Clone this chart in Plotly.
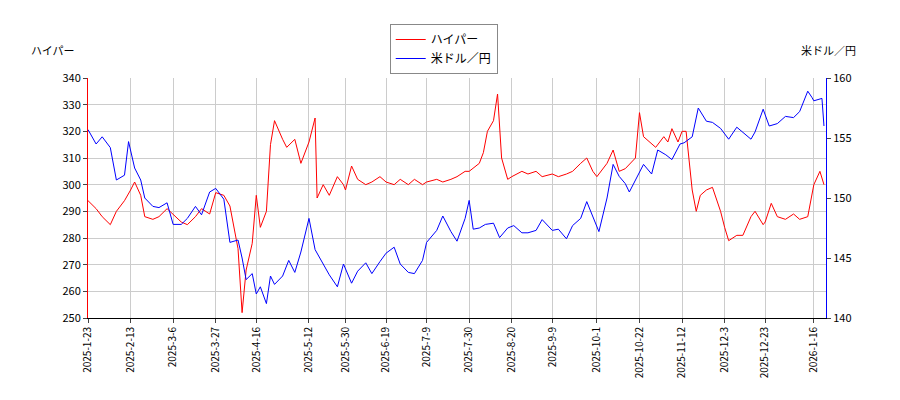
import plotly.graph_objects as go

r_dates = ["2025-01-23","2025-01-27","2025-01-30","2025-02-03","2025-02-06","2025-02-10","2025-02-13","2025-02-15","2025-02-18","2025-02-20","2025-02-24","2025-02-27","2025-03-03","2025-03-06","2025-03-10","2025-03-13","2025-03-17","2025-03-20","2025-03-24","2025-03-27","2025-03-31","2025-04-03","2025-04-07","2025-04-09","2025-04-11","2025-04-14","2025-04-16","2025-04-18","2025-04-21","2025-04-23","2025-04-25","2025-04-29","2025-05-01","2025-05-05","2025-05-08","2025-05-12","2025-05-15","2025-05-16","2025-05-19","2025-05-22","2025-05-26","2025-05-29","2025-05-30","2025-06-02","2025-06-05","2025-06-09","2025-06-12","2025-06-16","2025-06-19","2025-06-23","2025-06-26","2025-06-30","2025-07-03","2025-07-07","2025-07-09","2025-07-14","2025-07-17","2025-07-21","2025-07-24","2025-07-28","2025-07-30","2025-08-04","2025-08-06","2025-08-08","2025-08-11","2025-08-13","2025-08-15","2025-08-18","2025-08-20","2025-08-25","2025-08-28","2025-09-01","2025-09-04","2025-09-09","2025-09-12","2025-09-16","2025-09-19","2025-09-23","2025-09-26","2025-09-29","2025-10-01","2025-10-06","2025-10-09","2025-10-12","2025-10-15","2025-10-20","2025-10-22","2025-10-24","2025-10-27","2025-10-30","2025-11-03","2025-11-05","2025-11-07","2025-11-10","2025-11-12","2025-11-14","2025-11-17","2025-11-19","2025-11-21","2025-11-24","2025-11-27","2025-12-01","2025-12-03","2025-12-05","2025-12-09","2025-12-12","2025-12-16","2025-12-18","2025-12-22","2025-12-23","2025-12-26","2025-12-29","2026-01-02","2026-01-06","2026-01-09","2026-01-13","2026-01-16","2026-01-19","2026-01-21"]
r_vals = [294,291,288,285,290,294,298,301,296,288,287,288,291,289,286,285,288,291,289,297,296,292,276,252,268,278,296,284,290,315,324,317,314,317,308,316,325,295,300,296,303,300,298,307,302,300,301,303,301,300,302,300,302,300,301,302,301,302,303,305,305,308,312,320,324,334,310,302,303,305,304,305,303,304,303,304,305,308,310,305,303,308,313,305,306,310,327,318,316,314,318,316,321,316,320,320,298,290,296,298,299,290,284,279,281,281,288,290,285,286,293,288,287,289,287,288,300,305,300]

b_dates = ["2025-01-23","2025-01-27","2025-01-30","2025-02-03","2025-02-06","2025-02-10","2025-02-12","2025-02-15","2025-02-18","2025-02-20","2025-02-24","2025-02-27","2025-03-03","2025-03-06","2025-03-10","2025-03-13","2025-03-17","2025-03-20","2025-03-24","2025-03-27","2025-03-31","2025-04-03","2025-04-07","2025-04-09","2025-04-11","2025-04-14","2025-04-16","2025-04-18","2025-04-21","2025-04-23","2025-04-25","2025-04-29","2025-05-02","2025-05-05","2025-05-08","2025-05-12","2025-05-15","2025-05-19","2025-05-22","2025-05-26","2025-05-29","2025-06-02","2025-06-05","2025-06-09","2025-06-12","2025-06-16","2025-06-19","2025-06-23","2025-06-26","2025-06-30","2025-07-03","2025-07-07","2025-07-09","2025-07-14","2025-07-17","2025-07-21","2025-07-24","2025-07-28","2025-07-30","2025-08-01","2025-08-04","2025-08-07","2025-08-11","2025-08-14","2025-08-18","2025-08-21","2025-08-25","2025-08-28","2025-09-01","2025-09-04","2025-09-09","2025-09-12","2025-09-16","2025-09-19","2025-09-23","2025-09-26","2025-09-30","2025-10-02","2025-10-06","2025-10-09","2025-10-12","2025-10-15","2025-10-17","2025-10-21","2025-10-24","2025-10-28","2025-10-31","2025-11-04","2025-11-07","2025-11-11","2025-11-13","2025-11-17","2025-11-20","2025-11-24","2025-11-27","2025-12-01","2025-12-03","2025-12-05","2025-12-09","2025-12-12","2025-12-16","2025-12-18","2025-12-22","2025-12-25","2025-12-29","2026-01-02","2026-01-06","2026-01-09","2026-01-13","2026-01-15","2026-01-16","2026-01-20","2026-01-21"]
b_vals = [155.7,154.5,155.1,154.2,151.5,151.9,154.7,152.5,151.5,150,149.3,149.2,149.6,147.8,147.8,148.3,149.3,148.6,150.5,150.8,149.9,146.3,146.5,145,143.2,143.7,142,142.6,141.2,143.5,142.8,143.5,144.8,143.8,145.5,148.3,145.7,144.5,143.6,142.6,144.5,142.9,143.9,144.6,143.7,144.7,145.4,145.9,144.5,143.8,143.7,144.8,146.3,147.3,148.5,147.2,146.4,148.3,149.8,147.4,147.5,147.8,147.9,146.7,147.5,147.7,147.1,147.1,147.3,148.2,147.3,147.4,146.6,147.7,148.3,149.7,148,147.2,150,152.8,151.8,151.2,150.5,151.8,152.8,152,154,153.6,153.2,154.5,154.6,155.1,157.5,156.4,156.3,155.8,155.3,154.9,155.9,155.5,154.9,155.5,157.4,156,156.2,156.8,156.7,157.2,158.9,158.4,158.1,158.3,156]

tick_dates = ["2025-01-23","2025-02-13","2025-03-06","2025-03-27","2025-04-16","2025-05-12","2025-05-30","2025-06-19","2025-07-09","2025-07-30","2025-08-20","2025-09-09","2025-10-01","2025-10-22","2025-11-12","2025-12-03","2025-12-23","2026-01-16"]
tick_text = ["2025-1-23","2025-2-13","2025-3-6","2025-3-27","2025-4-16","2025-5-12","2025-5-30","2025-6-19","2025-7-9","2025-7-30","2025-8-20","2025-9-9","2025-10-1","2025-10-22","2025-11-12","2025-12-3","2025-12-23","2026-1-16"]

fig = go.Figure()
fig.add_trace(go.Scatter(x=r_dates, y=r_vals, name="ハイパー", mode="lines", line=dict(color="#ff0000", width=1)))
fig.add_trace(go.Scatter(x=b_dates, y=b_vals, name="米ドル／円", mode="lines", line=dict(color="#0000ff", width=1), yaxis="y2"))
font = dict(family="Noto Sans CJK JP", size=11, color="#000")
fig.update_layout(
    width=900, height=400, margin=dict(l=80, r=82, t=70, b=90, autoexpand=False),
    plot_bgcolor="white", paper_bgcolor="white", font=font,
    xaxis=dict(range=["2025-01-23", "2026-01-22"], tickvals=tick_dates, ticktext=tick_text, tickangle=-90, automargin=False,
               showgrid=True, gridcolor="#cccccc", ticks="outside", ticklen=4, showline=True, linecolor="#000", tickfont=dict(size=10)),
    yaxis=dict(range=[250, 340], dtick=10, showgrid=True, gridcolor="#cccccc", ticks="outside", ticklen=4, automargin=False,
               showline=True, linecolor="#ff0000", linewidth=1, zeroline=False),
    yaxis2=dict(range=[140, 160], dtick=5, overlaying="y", side="right", showgrid=False, ticks="outside", ticklen=4, automargin=False,
                showline=True, linecolor="#0000ff", zeroline=False),
    legend=dict(x=0.482, y=1.225, xanchor="center", yanchor="top", bordercolor="#888", borderwidth=1, font=dict(size=12),
                tracegroupgap=0),
    annotations=[
        dict(text="ハイパー", xref="paper", yref="paper", x=-0.08, y=1.075, xanchor="left", yanchor="bottom", showarrow=False, font=font),
        dict(text="米ドル／円", xref="paper", yref="paper", x=1.043, y=1.075, xanchor="right", yanchor="bottom", showarrow=False, font=font),
    ],
)
fig.write_html("out.html")
